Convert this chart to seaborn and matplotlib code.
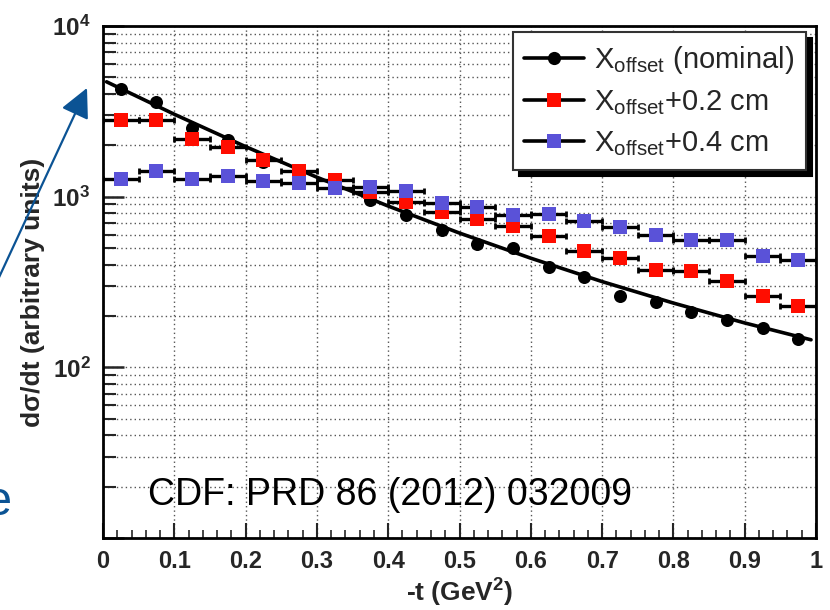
import matplotlib
matplotlib.use("Agg")
import matplotlib.pyplot as plt
import seaborn as sns
import pandas as pd
from matplotlib.lines import Line2D
from matplotlib.ticker import FixedLocator, LogLocator, NullFormatter

# |t| bin centres (GeV^2); every bin is 0.05 wide
t_centres = [0.025, 0.075, 0.125, 0.175, 0.225, 0.275, 0.325, 0.375, 0.425, 0.475,
             0.525, 0.575, 0.625, 0.675, 0.725, 0.775, 0.825, 0.875, 0.925, 0.975]
bin_half_width = 0.025

# d(sigma)/dt per bin for the three beam-offset settings
nominal = [4300, 3600, 2520, 2160, 1600, 1400, 1160, 960, 782, 638,
           528, 500, 386, 337, 261, 240, 212, 190, 169, 147]
offset_02 = [2810, 2810, 2180, 1960, 1630, 1420, 1255, 1061, 935, 810,
             740, 676, 586, 483, 435, 373, 368, 322, 263, 230]
offset_04 = [1270, 1420, 1270, 1330, 1240, 1200, 1125, 1135, 1075, 914,
             874, 785, 793, 718, 667, 599, 559, 559, 451, 427]

# fitted curve through the nominal points
fit_t = [0.005, 0.1, 0.2, 0.3, 0.4, 0.5, 0.6, 0.7, 0.8, 0.9, 0.993]
fit_vals = [4710, 3040, 1964, 1300, 881, 612, 436, 318, 238, 182, 145]

x_ticks = [0, 0.1, 0.2, 0.3, 0.4, 0.5, 0.6, 0.7, 0.8, 0.9, 1.0]
x_tick_labels = ["0", "0.1", "0.2", "0.3", "0.4", "0.5", "0.6", "0.7", "0.8", "0.9", "1"]
y_ticks = [10, 100, 1000, 10000]
y_tick_labels = ["", r"$\mathbf{10^{2}}$", r"$\mathbf{10^{3}}$", r"$\mathbf{10^{4}}$"]

legend_labels = [r"X$_{\mathrm{offset}}$ (nominal)",
                 r"X$_{\mathrm{offset}}$+0.2 cm",
                 r"X$_{\mathrm{offset}}$+0.4 cm"]

RED = "#ff0d00"
BLUE = "#5a52d8"
NAVY = "#0b5394"

sns.set_style("white")
plt.rcParams["font.family"] = ["Liberation Sans", "DejaVu Sans"]
plt.rcParams["mathtext.fontset"] = "custom"
plt.rcParams["mathtext.rm"] = "Liberation Sans"
plt.rcParams["mathtext.it"] = "Liberation Sans:italic"
plt.rcParams["mathtext.bf"] = "Liberation Sans:bold"

fig = plt.figure(figsize=(8.3, 6.1), dpi=100)
ax = fig.add_axes([103 / 830, 72 / 610, 713 / 830, 512 / 610])
ax.set_yscale("log")
ax.set_xlim(0, 1)
ax.set_ylim(10, 1e4)

# dotted grid
grid_kw = dict(color="#555555", linewidth=1.0, linestyle=(0, (1, 2.2)))
ax.xaxis.set_major_locator(FixedLocator(x_ticks))
ax.xaxis.set_minor_locator(FixedLocator([i / 50 for i in range(51)]))
ax.yaxis.set_major_locator(FixedLocator(y_ticks))
ax.yaxis.set_minor_locator(LogLocator(base=10, subs=range(2, 10)))
ax.yaxis.set_minor_formatter(NullFormatter())
ax.grid(True, which="major", axis="x", **grid_kw)
ax.grid(True, which="both", axis="y", **grid_kw)
ax.set_axisbelow(True)

# fit curve and nominal points
sns.lineplot(x=fit_t, y=fit_vals, color="black", linewidth=2.6, ax=ax, zorder=2,
             sort=False)
sns.scatterplot(x=t_centres, y=nominal, marker="o", s=88, color="black",
                linewidth=0, ax=ax, zorder=3)

# shifted-offset series with bin-width bars
for vals, col in [(offset_02, RED), (offset_04, BLUE)]:
    ax.errorbar(t_centres, vals, xerr=bin_half_width, fmt="none", ecolor="black",
                elinewidth=2.4, capsize=2, capthick=2, zorder=4)
    sns.scatterplot(x=t_centres, y=vals, marker="s", s=95, color=col,
                    linewidth=0, ax=ax, zorder=5)

# axes styling
for sp in ax.spines.values():
    sp.set_linewidth(2.0)
    sp.set_color("black")
ax.set_xticklabels(x_tick_labels)
ax.set_yticklabels(y_tick_labels)
ax.tick_params(axis="x", which="major", direction="in", length=11, width=1.5,
               bottom=True, top=False, pad=9, labelsize=17)
ax.tick_params(axis="x", which="minor", direction="in", length=6, width=1.2,
               bottom=True, top=False)
ax.tick_params(axis="y", which="major", direction="in", length=15, width=1.8,
               left=True, right=False, pad=9, labelsize=17.5)
ax.tick_params(axis="y", which="minor", direction="in", length=9, width=1.5,
               left=True, right=False)
for lab in ax.get_xticklabels():
    lab.set_fontweight("bold")

ax.set_xlabel(r"-t (GeV$^{\mathbf{2}}$)", fontsize=19, fontweight="bold")
ax.xaxis.set_label_coords(0.5, -0.107)
ax.xaxis.label.set_va("center")
ax.set_ylabel("dσ/dt (arbitrary units)", fontsize=19, fontweight="bold")
ax.yaxis.set_label_coords(-0.098, 0.479)
ax.yaxis.label.set_va("center")

ax.text(0.063, 0.0645, "CDF: PRD 86 (2012) 032009", transform=ax.transAxes,
        fontsize=27, ha="left", va="baseline", color="black", zorder=6)

handles = [
    Line2D([], [], color="black", lw=2.6, marker="o", markersize=9.5,
           markerfacecolor="black", markeredgewidth=0),
    Line2D([], [], color="black", lw=2.6, marker="s", markersize=9.6,
           markerfacecolor=RED, markeredgewidth=0),
    Line2D([], [], color="black", lw=2.6, marker="s", markersize=9.6,
           markerfacecolor=BLUE, markeredgewidth=0),
]
leg = ax.legend(handles, legend_labels, loc="upper right",
                bbox_to_anchor=(0.986, 0.988), bbox_transform=ax.transAxes,
                fontsize=21, frameon=True, fancybox=False, edgecolor="#333333",
                framealpha=1, borderaxespad=0, handlelength=2.05,
                handletextpad=0.35, labelspacing=0.42, borderpad=0.4,
                shadow={"color": "black", "alpha": 1.0, "ox": 4.3, "oy": -4.3})
leg.get_frame().set_linewidth(1.5)
leg.set_zorder(10)

# pointer arrow and clipped letter at the left margin
ax.annotate("", xy=(87, 522), xycoords="figure pixels",
            xytext=(-5, 324), textcoords="figure pixels",
            arrowprops=dict(arrowstyle="-|>,head_length=0.9,head_width=0.45",
                            mutation_scale=20, color=NAVY, lw=1.6,
                            shrinkA=0, shrinkB=0),
            annotation_clip=False)
fig.text(12 / 830, (610 - 515) / 610, "e", ha="right", va="baseline",
         fontsize=35, color=NAVY)

fig.savefig("out.png", dpi=100)
